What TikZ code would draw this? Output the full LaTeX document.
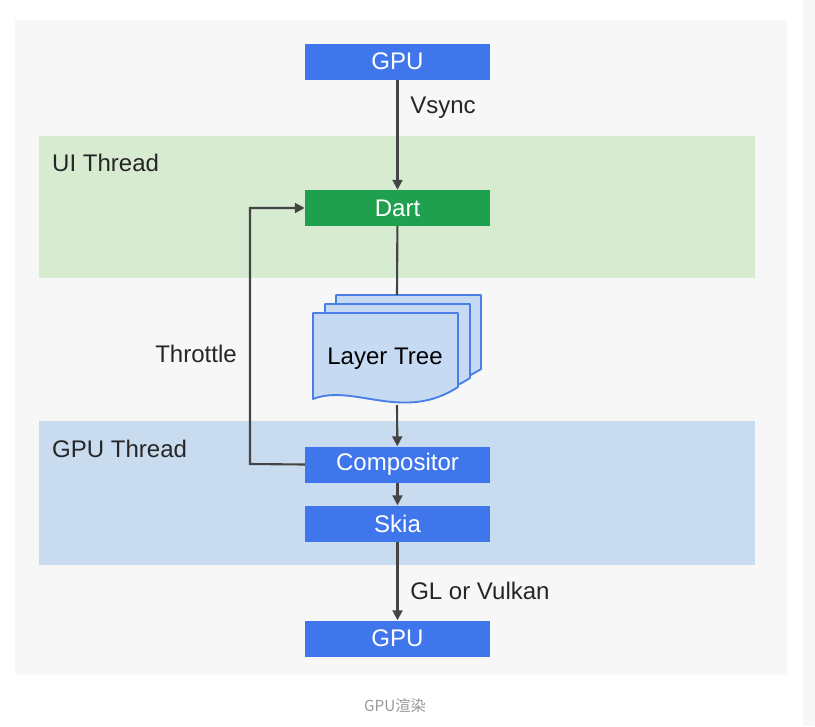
\documentclass[tikz,border=0pt]{standalone}
\usepackage{fontspec}
\setmainfont{Liberation Sans}
\newfontfamily\cjk{Noto Sans CJK SC}
\usetikzlibrary{arrows.meta}

\definecolor{panelcol}{RGB}{247,247,247}
\definecolor{uicol}{RGB}{214,235,208}
\definecolor{gpucol}{RGB}{201,220,239}
\definecolor{boxblue}{RGB}{64,118,236}
\definecolor{boxgreen}{RGB}{30,160,78}
\definecolor{sheetfill}{RGB}{199,218,243}
\definecolor{sheetdraw}{RGB}{74,128,230}
\definecolor{linecol}{RGB}{68,68,68}
\definecolor{captioncol}{RGB}{153,153,153}

\tikzset{
  stagebox/.style={minimum width=5.55cm, minimum height=1.08cm, inner sep=0,
                   text=white, font=\fontsize{20.5}{24}\selectfont},
  flow arrow/.style={-{Triangle[length=8.5pt,width=8.5pt]}, linecol, line width=1.8pt},
  flow line/.style={linecol, line width=1.8pt},
  side label/.style={font=\fontsize{20.5}{24}\selectfont, text=black!85, inner sep=0},
  layer sheet/.style={fill=sheetfill, draw=sheetdraw, line width=1.6pt, line join=round},
}

\begin{document}
\begin{tikzpicture}[x=0.03cm, y=-0.03cm]
        % 1 unit = 1 px of the 815 x 726 frame, y grows downward
        \useasboundingbox (0,0) rectangle (815,726);

        % ---- background panel and thread bands ----
        \fill[panelcol] (15,20) rectangle (787,675);
        \fill[black!3] (803,0) rectangle (815,726);
        \fill[uicol]  (39,136) rectangle (755,278);
        \fill[gpucol] (39,421) rectangle (755,565);
        \node[side label, anchor=west] (uilabel)  at (52,163) {UI Thread};
        \node[side label, anchor=west] (gpulabel) at (52,449) {GPU Thread};

        % ---- stage boxes (centre x = 397) ----
        \node[stagebox, fill=boxblue]  (gputop)     at (397.5,61.5)  {GPU};
        \node[stagebox, fill=boxgreen] (dart)       at (397.5,208) {Dart};
        \node[stagebox, fill=boxblue]  (compositor) at (397.5,464.5) {Compositor};
        \node[stagebox, fill=boxblue]  (skia)       at (397.5,523.5) {Skia};
        \node[stagebox, fill=boxblue]  (gpubot)     at (397.5,638.5) {GPU};

        % ---- layer tree: three stacked sheets, back to front ----
        \foreach \dx/\dy in {23/-18, 12/-9, 0/0} {
          \draw[layer sheet, shift={(313+\dx,313+\dy)}]
            (0,0) -- (145,0) -- (145,74)
            .. controls (90,110) and (40,70) .. (0,86) -- cycle;
        }
        \node[side label, text=black] (tree) at (385,359) {Layer Tree};
        \coordinate (treetop) at (397,295);
        \coordinate (treebot) at (397,405);

        % ---- connectors ----
        \draw[flow arrow] (gputop) -- node[side label, anchor=west, pos=0.25, xshift=10pt] (vsync) {Vsync} (dart);
        \draw[flow line] (dart) -- (treetop);
        \draw[flow arrow] (treebot) -- (compositor);
        \draw[flow arrow] (compositor) -- (skia);
        \draw[flow arrow] (skia) -- node[side label, anchor=west, pos=0.63, xshift=10pt] (glvk) {GL or Vulkan} (gpubot);
        \coordinate (loopbot) at (250,464);
        \coordinate (looptop) at (250,208);
        \draw[flow arrow] (compositor.west) -- (loopbot) -- (looptop) -- (dart.west);
        \node[side label] (throttle) at (196,354) {Throttle};

        % ---- caption ----
        \node[font=\cjk\fontsize{13}{15}\selectfont, text=captioncol] (caption) at (395,706) {GPU渲染};
      \end{tikzpicture}
\end{document}
